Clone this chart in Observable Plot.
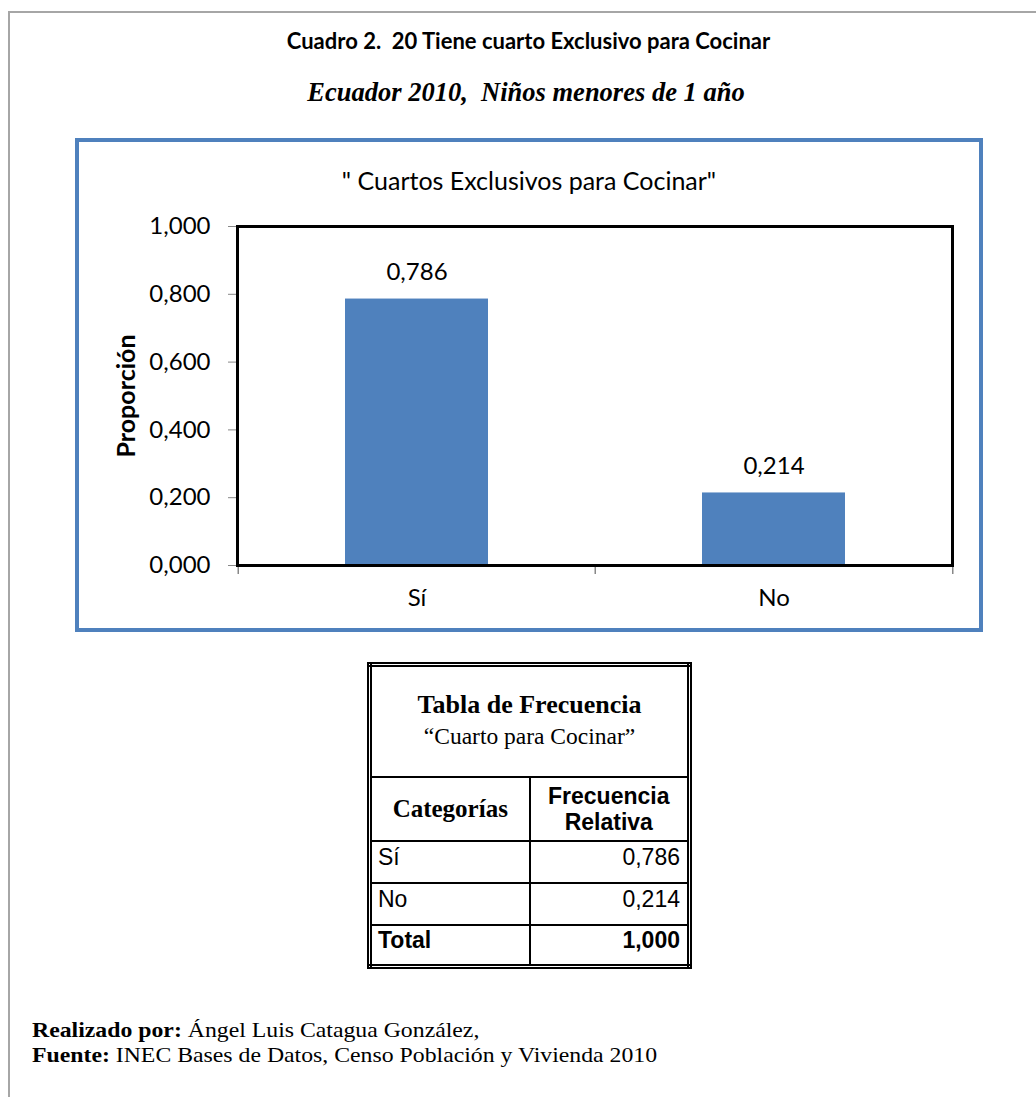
<!DOCTYPE html>
<html>
<head>
<meta charset="utf-8">
<script src="https://cdn.jsdelivr.net/npm/d3@7"></script>
<script src="https://cdn.jsdelivr.net/npm/@observablehq/plot@0.6"></script>
<style>
  html, body { margin: 0; padding: 0; background: #fff; }
  #page { position: relative; width: 1036px; height: 1097px; overflow: hidden; background: #fff; }
  #outer { position: absolute; left: 8px; top: 11px; width: 1200px; height: 1200px; border-top: 2px solid #a6a6a6; border-left: 2px solid #a6a6a6; }
  #title { position: absolute; left: 0; width: 1057px; top: 27px; text-align: center; font-family: Lato, "Open Sans", sans-serif; font-weight: bold; font-size: 22px; color: #000; white-space: pre; }
  #subtitle { position: absolute; left: 0; width: 1052px; top: 77px; text-align: center; font-family: "Liberation Serif", serif; font-weight: bold; font-style: italic; font-size: 26.5px; color: #000; white-space: pre; }
  #box { position: absolute; left: 75px; top: 138px; width: 908px; height: 494px; border: 4px solid #4f81bd; box-sizing: border-box; background: #fff; }
  #ctitle { position: absolute; left: 0; width: 1058px; top: 165px; text-align: center; font-family: Lato, "Open Sans", sans-serif; font-size: 25px; color: #000; white-space: pre; }
  #chart { position: absolute; left: 0; top: 200px; }
  #tbl { position: absolute; left: 367px; top: 662px; width: 325px; border-collapse: collapse; border: 5px double #000; table-layout: fixed; }
  #tbl td { border: 2px solid #000; padding: 0 6px; color: #000; white-space: nowrap; }
  .serif { font-family: "Liberation Serif", serif; }
  .sans { font-family: "Liberation Sans", Arial, sans-serif; }
  #footer { position: absolute; left: 32px; top: 1017px; font-family: "Liberation Serif", serif; font-size: 22px; line-height: 25px; color: #000; transform: scaleX(1.08); transform-origin: 0 0; white-space: nowrap; }
</style>
</head>
<body>
<div id="page">
  <div id="outer"></div>
  <div id="title">Cuadro 2.  20 Tiene cuarto Exclusivo para Cocinar</div>
  <div id="subtitle">Ecuador 2010,  Niños menores de 1 año</div>
  <div id="box"></div>
  <div id="ctitle">" Cuartos Exclusivos para Cocinar"</div>
  <div id="chart"></div>
  <table id="tbl"></table>
  <div id="footer"><b>Realizado por:</b> Ángel Luis Catagua González,<br><b>Fuente:</b> INEC Bases de Datos, Censo Población y Vivienda 2010</div>
</div>
<script>
const categories = ["Sí", "No"];
const proportions = [0.786, 0.214];
const yTicks = [0, 0.2, 0.4, 0.6, 0.8, 1.0];
const totalLabel = "Total";
const totalValue = 1.000;

const fmt = d => d.toFixed(3).replace(".", ",");
const data = categories.map((c, i) => ({cat: c, value: proportions[i]}));

const W = 1036, H = 430;
const mL = 237, mR = 84, mT = 26, mB = 65;
const step = (W - mL - mR) / categories.length;

const chart = Plot.plot({
  width: W,
  height: H,
  marginLeft: mL,
  marginRight: mR,
  marginTop: mT,
  marginBottom: mB,
  style: {fontFamily: "Lato, 'Open Sans', sans-serif", fontSize: "24px", color: "#000", background: "transparent"},
  x: {domain: categories, paddingInner: 0.6, paddingOuter: 0.3},
  y: {domain: [0, 1]},
  marks: [
    Plot.barY(data, {x: "cat", y: "value", fill: "#4f81bd"}),
    Plot.ruleX(categories, {x: d => d, y1: 0, y2: 0, insetBottom: -9, dx: -step / 2, stroke: "#888", strokeWidth: 1.5}),
    Plot.ruleX(categories.slice(-1), {x: d => d, y1: 0, y2: 0, insetBottom: -9, dx: step / 2, stroke: "#888", strokeWidth: 1.5}),
    Plot.axisY({ticks: yTicks, tickFormat: fmt, tickSize: 9, tickPadding: 18, stroke: "#888", fill: "#000", fontSize: 24,
      label: "Proporción", labelAnchor: "center", labelOffset: 120, labelArrow: "none"}),
    Plot.axisX({tickSize: 0, tickPadding: 23, fontSize: 24, label: null, fill: "#000"}),
    Plot.frame({stroke: "#000", strokeWidth: 3}),
    Plot.text(data, {x: "cat", y: "value", text: d => fmt(d.value), dy: -27, fontSize: 24, fill: "#000"})
  ]
});
chart.querySelectorAll("g[aria-label='y-axis label'] text").forEach(t => {
  t.setAttribute("font-weight", "bold");
  t.setAttribute("font-size", "25");
});
document.getElementById("chart").appendChild(chart);

// table
const tbl = document.getElementById("tbl");
let html = "";
html += `<tr style="height:112px"><td colspan="2" class="serif" style="text-align:center;line-height:29px"><b style="font-size:26px">Tabla de Frecuencia</b><br><span style="font-size:23.5px">“Cuarto para Cocinar”</span></td></tr>`;
html += `<tr style="height:64px"><td class="serif" style="text-align:center;font-size:25px;font-weight:bold;padding:0 2px">Categorías</td><td class="sans" style="text-align:center;font-size:23px;font-weight:bold;line-height:26px;padding:0 2px">Frecuencia<br>Relativa</td></tr>`;
categories.forEach((c, i) => {
  html += `<tr style="height:42px"><td class="sans" style="font-size:23px;padding:0 0 8px 6px">${c}</td><td class="sans" style="font-size:23px;text-align:right;padding:0 7px 8px 0">${fmt(proportions[i])}</td></tr>`;
});
html += `<tr style="height:42px"><td class="sans" style="font-size:23px;font-weight:bold;padding:0 0 8px 6px">${totalLabel}</td><td class="sans" style="font-size:23px;font-weight:bold;text-align:right;padding:0 7px 8px 0">${fmt(totalValue)}</td></tr>`;
tbl.innerHTML = html;
</script>
</body>
</html>
